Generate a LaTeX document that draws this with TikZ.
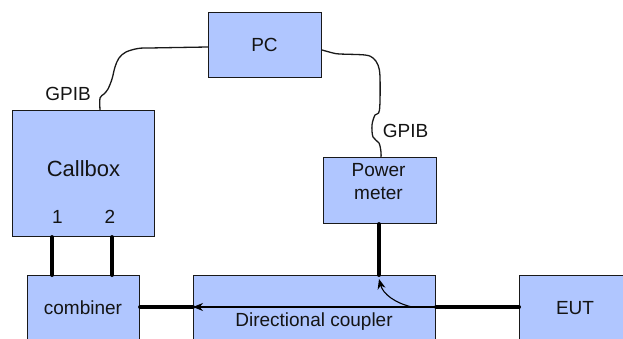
\documentclass[tikz,border=0pt]{standalone}
\usepackage{fontspec}
\setmainfont{Liberation Sans}
\usetikzlibrary{arrows.meta}
\definecolor{boxfill}{RGB}{176,198,255}
\definecolor{boxline}{RGB}{25,25,25}
\definecolor{txt}{RGB}{20,20,20}
\begin{document}
\begin{tikzpicture}[x=1pt,y=1pt,
  box/.style={draw=boxline, line width=1.1pt, fill=boxfill, inner sep=0pt, anchor=north west},
  lbl/.style={font=\fontsize{19}{23}\selectfont, text=txt, inner sep=0pt, anchor=base},
  biglbl/.style={lbl, font=\fontsize{22}{26}\selectfont},
  cable/.style={line width=4pt, line cap=round, black},
  wire/.style={line width=1.3pt, boxline},
  thin/.style={line width=1.1pt, black}]
\useasboundingbox (0,0) rectangle (623,-339);
\clip (0,0) rectangle (623,-339);
% boxes
\node[box, minimum width=113pt, minimum height=65pt] (pc) at (208,-12) {};
\node[box, minimum width=142pt, minimum height=126pt] (cb) at (12,-110) {};
\node[box, minimum width=113pt, minimum height=66pt] (pm) at (323,-157) {};
\node[box, minimum width=112pt, minimum height=80pt] (comb) at (27,-275) {};
\node[box, minimum width=242pt, minimum height=80pt] (cpl) at (193,-275) {};
\node[box, minimum width=120pt, minimum height=80pt] (eut) at (519,-275) {};
% texts
\node[lbl] (pctxt) at (264.5,-51.5) {PC};
\node[biglbl] (cbtxt) at (83.5,-176.7) {Callbox};
\node[lbl] (p1) at (57.5,-223) {1};
\node[lbl] (p2) at (110,-223) {2};
\node[lbl] (pmtxt1) at (378.5,-177) {Power};
\node[lbl] (pmtxt2) at (378.5,-200) {meter};
\node[lbl] (combtxt) at (83,-314) {combiner};
\node[lbl] (cpltxt) at (314,-326) {Directional coupler};
\node[lbl] (euttxt) at (575,-314) {EUT};
\node[lbl] (gpib1) at (68,-101) {GPIB};
\node[lbl] (gpib2) at (405.5,-138) {GPIB};
% GPIB wires
\coordinate (w1a) at ([xshift=88pt]cb.north west);
\coordinate (w1b) at ([yshift=-35pt]pc.north west);
\draw[wire] plot[smooth, tension=0.55] coordinates {(w1a) (100,-98) (104,-94) (108,-89) (112,-79) (115,-67) (119,-58) (126,-52) (138,-48.5) (150,-48) (w1b)};
\coordinate (w2a) at ([yshift=-38pt]pc.north east);
\coordinate (w2b) at ([xshift=58pt]pm.north west);
\draw[wire] plot[smooth, tension=0.55] coordinates {(w2a) (333,-53) (340,-54) (365,-55) (373,-58) (378,-65) (380,-77) (379.5,-110) (375,-115) (372,-125) (373,-137) (379,-143) (381,-152) (w2b)};
% cables
\draw[cable] ([xshift=40pt]cb.south west) -- ([xshift=25pt]comb.north west);
\draw[cable] ([xshift=100pt]cb.south west) -- ([xshift=85pt]comb.north west);
\draw[cable] ([yshift=-32pt]comb.north east) -- ([yshift=-32pt]cpl.north west);
\draw[cable] ([xshift=56pt]pm.south west) -- ([xshift=186pt]cpl.north west);
\draw[cable] ([yshift=-32pt]cpl.north east) -- ([yshift=-32pt]eut.north west);
% inside coupler
\draw[thin, -{Stealth[length=10pt,width=8pt]}] ([yshift=-32pt]cpl.north east) -- ([yshift=-32pt]cpl.north west);
\draw[thin, -{Stealth[length=10pt,width=8pt]}] ([xshift=219pt,yshift=-32pt]cpl.north west) .. controls (395,-303) and (383,-294) .. ([xshift=186pt,yshift=-4pt]cpl.north west);
\end{tikzpicture}
\end{document}
